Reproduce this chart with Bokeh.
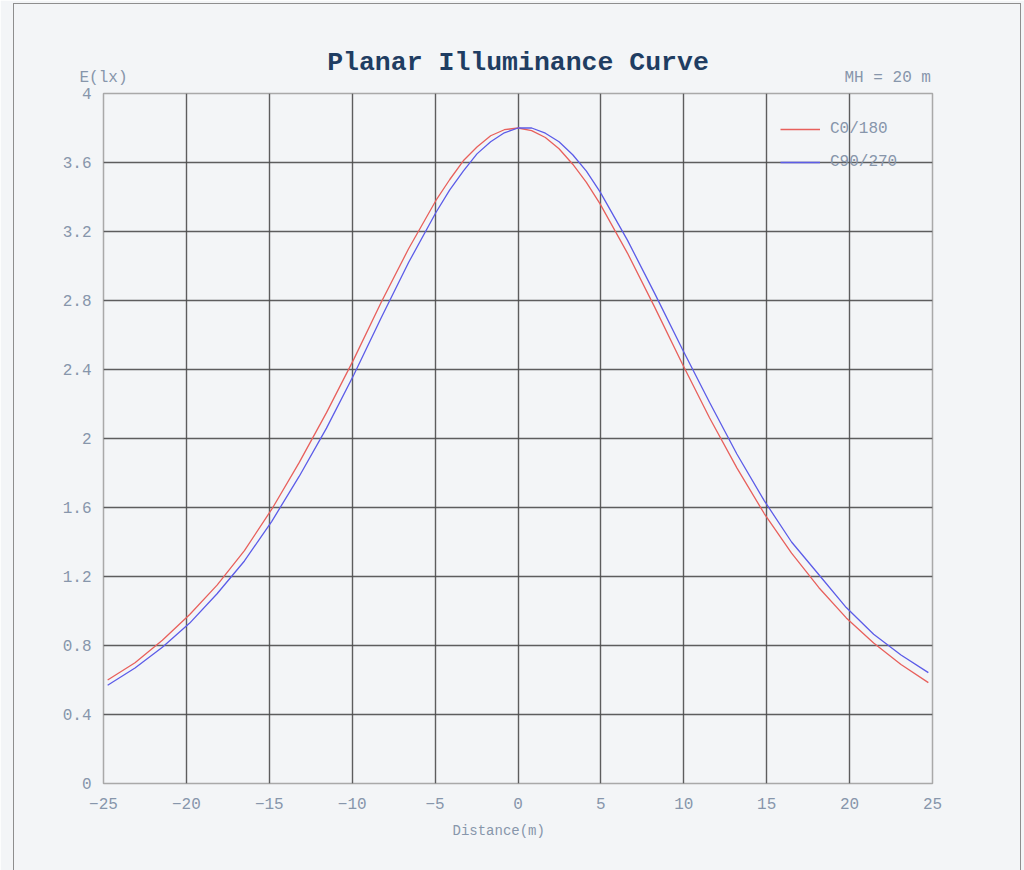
from bokeh.plotting import figure
from bokeh.models import (ColumnDataSource, FixedTicker, Legend, LegendItem, LinearAxis,
                          Range1d, Title, InlineStyleSheet)
from bokeh.embed import file_html
from bokeh.resources import INLINE

# Distance from the pole (m)
distance = [-24.75, -23.1, -21.45, -19.8, -18.15, -16.5, -14.85, -13.2, -11.55, -9.9,
            -8.25, -6.6, -4.95, -4.125, -3.3, -2.475, -1.65, -0.825, 0.0,
            0.825, 1.65, 2.475, 3.3, 4.125, 4.95, 6.6, 8.25, 9.9,
            11.55, 13.2, 14.85, 16.5, 18.15, 19.8, 21.45, 23.1, 24.75]

# Planar illuminance E (lx), C0/180 plane
e_c0_180 = [0.60, 0.70, 0.83, 0.98, 1.15, 1.35, 1.59, 1.86, 2.15, 2.46,
            2.79, 3.10, 3.38, 3.50, 3.61, 3.69, 3.755, 3.79, 3.80,
            3.785, 3.745, 3.68, 3.59, 3.485, 3.36, 3.075, 2.76, 2.435,
            2.12, 1.83, 1.565, 1.335, 1.135, 0.96, 0.815, 0.69, 0.585]

# Planar illuminance E (lx), C90/270 plane
e_c90_270 = [0.57, 0.67, 0.79, 0.93, 1.10, 1.29, 1.52, 1.78, 2.06, 2.37,
             2.70, 3.02, 3.31, 3.44, 3.55, 3.65, 3.72, 3.772, 3.80,
             3.80, 3.77, 3.72, 3.645, 3.55, 3.43, 3.15, 2.84, 2.52,
             2.21, 1.91, 1.64, 1.40, 1.21, 1.02, 0.865, 0.745, 0.643]

x_ticks = [-25, -20, -15, -10, -5, 0, 5, 10, 15, 20, 25]
y_ticks = [0, 0.4, 0.8, 1.2, 1.6, 2.0, 2.4, 2.8, 3.2, 3.6, 4.0]
y_tick_labels = ["0", "0.4", "0.8", "1.2", "1.6", "2", "2.4", "2.8", "3.2", "3.6", "4"]

series_names = ["C0/180", "C90/270"]
series_colors = ["#e8605c", "#5c5ce8"]

# header texts sitting on the top edge of the chart
header_pos = [-25, 22.3]
header_text = ["E(lx)", "MH = 20 m"]

MONO = "Liberation Mono"
TEXT_GREY = "#8796ab"
BG = "#f3f5f7"

p = figure(width=1024, height=870, output_backend="svg", toolbar_location=None,
           x_range=Range1d(-25, 25), y_range=Range1d(0, 4),
           min_border_left=103, min_border_right=92, min_border_top=93,
           min_border_bottom=87)
p.background_fill_color = BG
p.border_fill_color = BG
p.outline_line_color = "#a9a9a9"
p.outline_line_width = 1.5

# panel border around the whole chart
p.stylesheets = [InlineStyleSheet(css=(
    ":host{position:relative;}"
    ":host::after{content:'';position:absolute;left:13px;top:3px;width:1008px;"
    "height:867px;border:1.5px solid #8e8e8e;border-bottom:none;"
    "box-sizing:border-box;pointer-events:none;z-index:10;}"))]

# grid: interior lines dark, right/bottom edges drawn by the outline
p.xgrid.ticker = FixedTicker(ticks=x_ticks[:-1])
p.ygrid.ticker = FixedTicker(ticks=y_ticks[1:])
for g in (p.xgrid, p.ygrid):
    g.grid_line_color = "#4d4d4d"
    g.grid_line_width = 1.4
    g.grid_line_alpha = 0.9


def style_axis(ax, size="16px"):
    ax.axis_line_color = None
    ax.major_tick_line_color = None
    ax.minor_tick_line_color = None
    ax.major_tick_out = 0
    ax.major_tick_in = 0
    ax.major_label_text_font = MONO
    ax.major_label_text_font_size = size
    ax.major_label_text_color = TEXT_GREY


style_axis(p.xaxis[0])
style_axis(p.yaxis[0])
p.xaxis.ticker = FixedTicker(ticks=x_ticks)
p.xaxis.major_label_standoff = 14
p.yaxis.ticker = FixedTicker(ticks=y_ticks)
p.yaxis.major_label_overrides = {t: s for t, s in zip(y_ticks, y_tick_labels)}
p.yaxis.major_label_standoff = 12

# top axis carries the unit / mounting-height notes and the title
top_axis = LinearAxis(ticker=FixedTicker(ticks=header_pos))
style_axis(top_axis)
top_axis.major_label_overrides = {t: s for t, s in zip(header_pos, header_text)}
top_axis.major_label_standoff = 7
top_axis.axis_label = "Planar Illuminance Curve"
top_axis.axis_label_text_font = MONO
top_axis.axis_label_text_font_style = "bold"
top_axis.axis_label_text_font_size = "26.5px"
top_axis.axis_label_text_color = "#1f3d62"
top_axis.axis_label_standoff = -12
p.add_layout(top_axis, "above")

p.add_layout(Title(text="Distance(m)", align="left", offset=349, standoff=18,
                   text_font=MONO, text_font_size="14px", text_font_style="normal",
                   text_color=TEXT_GREY), "below")

src = ColumnDataSource(dict(d=distance, c0=e_c0_180, c90=e_c90_270))
r0 = p.line("d", "c0", source=src, line_color=series_colors[0], line_width=1.3)
r1 = p.line("d", "c90", source=src, line_color=series_colors[1], line_width=1.3)

legend = Legend(items=[LegendItem(label=series_names[0], renderers=[r0]),
                       LegendItem(label=series_names[1], renderers=[r1])],
                location=(677, 611), orientation="vertical")
legend.background_fill_alpha = 0
legend.border_line_alpha = 0
legend.padding = 0
legend.margin = 0
legend.spacing = 13
legend.glyph_width = 40
legend.glyph_height = 20
legend.label_height = 20
legend.label_standoff = 10
legend.label_text_font = MONO
legend.label_text_font_size = "16px"
legend.label_text_color = TEXT_GREY
p.add_layout(legend)

open("out.html", "w").write(file_html(p, INLINE))
